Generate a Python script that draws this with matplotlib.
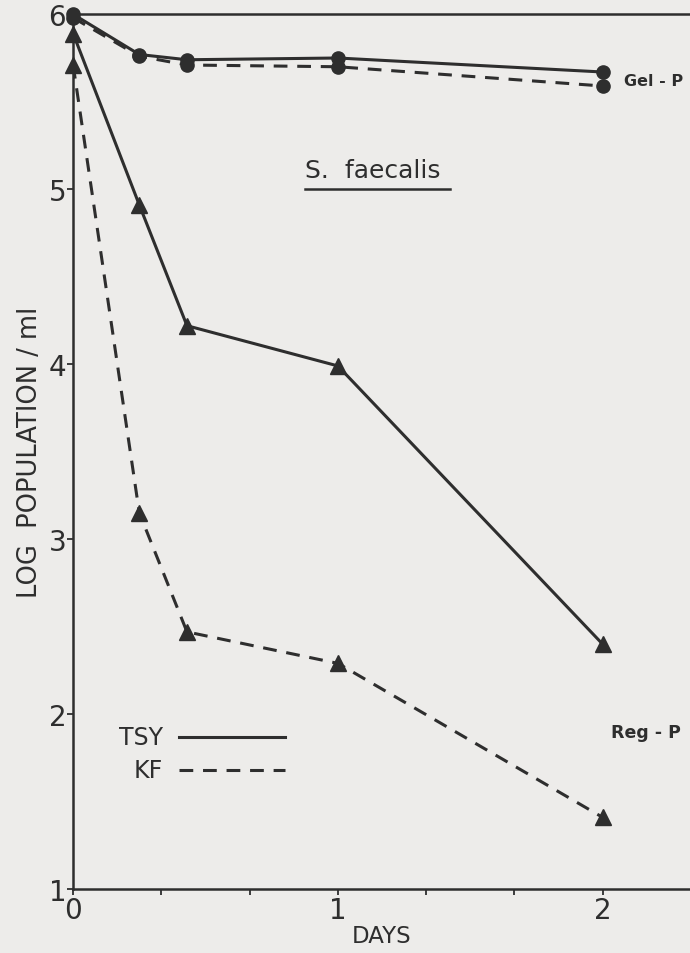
import numpy as np
import matplotlib
matplotlib.use("Agg")
import matplotlib.pyplot as plt

# sampling times (days) and log counts per ml
days = [0, 0.25, 0.43, 1, 2]
gel_tsy = [6.00, 5.77, 5.74, 5.75, 5.67]
gel_kf = [5.98, 5.76, 5.71, 5.70, 5.59]
reg_tsy = [5.89, 4.91, 4.22, 3.99, 2.40]
reg_kf = [5.71, 3.15, 2.47, 2.29, 1.41]

ink = "#2e2e2e"
bg = "#edecea"

plt.rcParams['font.family'] = ['DejaVu Sans']

fig = plt.figure(figsize=(6.9, 9.54), dpi=100, facecolor=bg)
ax = fig.add_axes([0.106, 0.067, 0.894, 0.917], facecolor=bg)

lw = 2.2
dash = (4.5, 3.2)
ax.plot(days, gel_tsy, color=ink, lw=lw, marker='o', ms=9.5, clip_on=False, zorder=3)
ax.plot(days, gel_kf, color=ink, lw=lw, dashes=dash, marker='o', ms=9.5, clip_on=False, zorder=3)
ax.plot(days, reg_tsy, color=ink, lw=lw, marker='^', ms=11, clip_on=False, zorder=3)
ax.plot(days, reg_kf, color=ink, lw=lw, dashes=dash, marker='^', ms=11, clip_on=False, zorder=3)

ax.set_xlim(0, 2.33)
ax.set_ylim(1, 6)

ax.spines['right'].set_visible(False)
for side in ['left', 'bottom', 'top']:
    ax.spines[side].set_color(ink)
    ax.spines[side].set_linewidth(1.8)

ax.set_yticks([1, 2, 3, 4, 5, 6])
ax.set_yticklabels(['1', '2', '3', '4', '5', '6'])
ax.set_xticks([0, 1, 2])
ax.set_xticklabels(['0', '1', '2'])
ax.set_xticks([1/3, 2/3, 4/3, 5/3], minor=True)
ax.tick_params(axis='both', which='both', direction='out', color=ink, width=1.3,
               length=4, labelcolor=ink, labelsize=20, pad=1)

ax.set_ylabel('LOG  POPULATION / ml', fontsize=18.5, color=ink, labelpad=4)
ax.set_xlabel('DAYS', fontsize=16.5, color=ink, labelpad=0)

# organism title, underlined
ax.text(0.376, 0.814, 'S.  faecalis', transform=ax.transAxes, fontsize=18,
        color=ink, ha='left', va='baseline')
ax.plot([0.376, 0.611], [0.800, 0.800], transform=ax.transAxes, color=ink, lw=1.8)

ax.text(2.08, 5.62, 'Gel - P', fontsize=11.5, fontweight='bold', color=ink, va='center')
ax.text(2.03, 1.90, 'Reg - P', fontsize=12.5, fontweight='bold', color=ink, va='center')

# medium key
ax.text(0.34, 1.87, 'TSY', fontsize=17, color=ink, ha='right', va='center')
ax.text(0.34, 1.68, 'KF', fontsize=17, color=ink, ha='right', va='center')
ax.plot([0.40, 0.80], [1.87, 1.87], color=ink, lw=lw)
ax.plot([0.40, 0.80], [1.68, 1.68], color=ink, lw=lw, dashes=dash)

fig.savefig('out.png', dpi=100, facecolor=bg)
